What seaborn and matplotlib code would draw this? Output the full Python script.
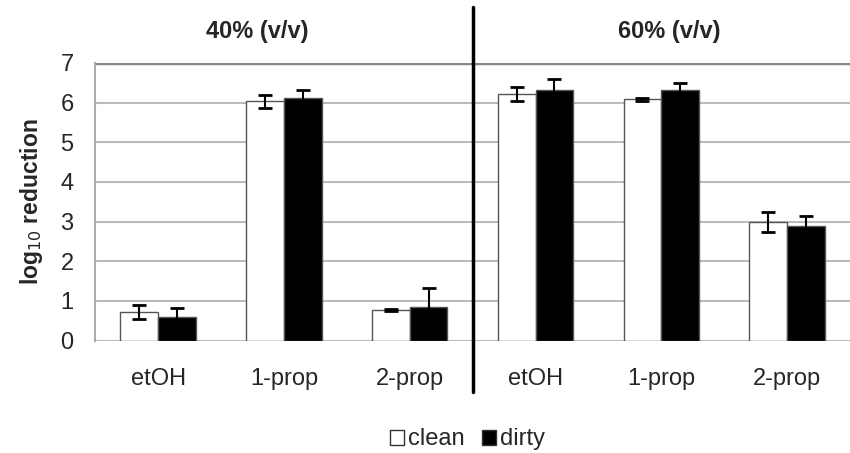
import pandas as pd
import matplotlib.pyplot as plt
import seaborn as sns

# Data
slots = ["a_etOH", "a_1prop", "a_2prop", "b_etOH", "b_1prop", "b_2prop"]
tick_labels = ["etOH", "1-prop", "2-prop", "etOH", "1-prop", "2-prop"]
clean = [0.72, 6.03, 0.78, 6.22, 6.08, 3.00]
clean_err = [0.18, 0.17, 0.03, 0.17, 0.03, 0.25]
dirty = [0.60, 6.12, 0.84, 6.33, 6.33, 2.89]
dirty_err = [0.23, 0.19, 0.49, 0.27, 0.16, 0.25]
groups = ["40% (v/v)", "60% (v/v)"]

df = pd.DataFrame({
    "slot": slots * 2,
    "value": clean + dirty,
    "err": clean_err + dirty_err,
    "cond": ["clean"] * 6 + ["dirty"] * 6,
})

sns.set_style("white")
plt.rcParams["font.family"] = ["Liberation Sans", "DejaVu Sans"]

fig = plt.figure(figsize=(8.5, 4.53), dpi=100)
ax = fig.add_axes([0.112, 0.248, 0.888, 0.613])

sns.barplot(data=df, x="slot", y="value", hue="cond", order=slots,
            hue_order=["clean", "dirty"], palette={"clean": "white", "dirty": "black"},
            width=0.6, edgecolor="#555555", linewidth=1, errorbar=None, ax=ax, zorder=3)

# error bars from the bar positions
for cont, errs in zip(ax.containers, [clean_err, dirty_err]):
    for bar, e in zip(cont, errs):
        x = bar.get_x() + bar.get_width() / 2
        ax.errorbar(x, bar.get_height(), yerr=e, fmt="none", ecolor="black",
                    elinewidth=1.5, capsize=5, capthick=2, zorder=4)

ax.set_ylim(0, 7)
ax.set_xlim(-0.5, 5.5)
ax.set_yticks(range(8))
ax.yaxis.grid(True, color="#bbbbbb", linewidth=1.5, zorder=0)
ax.axhline(7, color="#888888", linewidth=2.5, zorder=2)
ax.set_axisbelow(True)
for side in ["top", "right", "bottom"]:
    ax.spines[side].set_visible(False)
ax.spines["left"].set_color("#aaaaaa")
ax.spines["left"].set_linewidth(1.5)
ax.tick_params(axis="y", length=6.5, color="#aaaaaa", width=1.5, labelsize=17, pad=9)
ax.tick_params(axis="x", length=0, labelsize=17, pad=20)
ax.set_xticks(range(6))
ax.set_xticklabels(tick_labels)
ax.set_xlabel("")
ax.set_ylabel("log$_{10}$ reduction", fontsize=16.5, fontweight="bold", labelpad=11)

# divider between the two concentrations
ax.plot([2.5, 2.5], [-1.3, 8.4], color="black", linewidth=2.5, clip_on=False, zorder=5)
ax.text(0.79, 7.8, groups[0], ha="center", va="center", fontsize=17, fontweight="bold")
ax.text(4.06, 7.8, groups[1], ha="center", va="center", fontsize=17, fontweight="bold")

leg = fig.legend(*ax.get_legend_handles_labels(), loc="center", bbox_to_anchor=(0.55, 0.03),
                 ncol=2, frameon=False, fontsize=17, handlelength=0.6, handleheight=0.6,
                 handletextpad=0.2, columnspacing=0.7)
ax.get_legend().remove()
for h in leg.legend_handles:
    h.set_edgecolor("#333333")
    h.set_linewidth(1)

fig.savefig("out.png", dpi=100)
